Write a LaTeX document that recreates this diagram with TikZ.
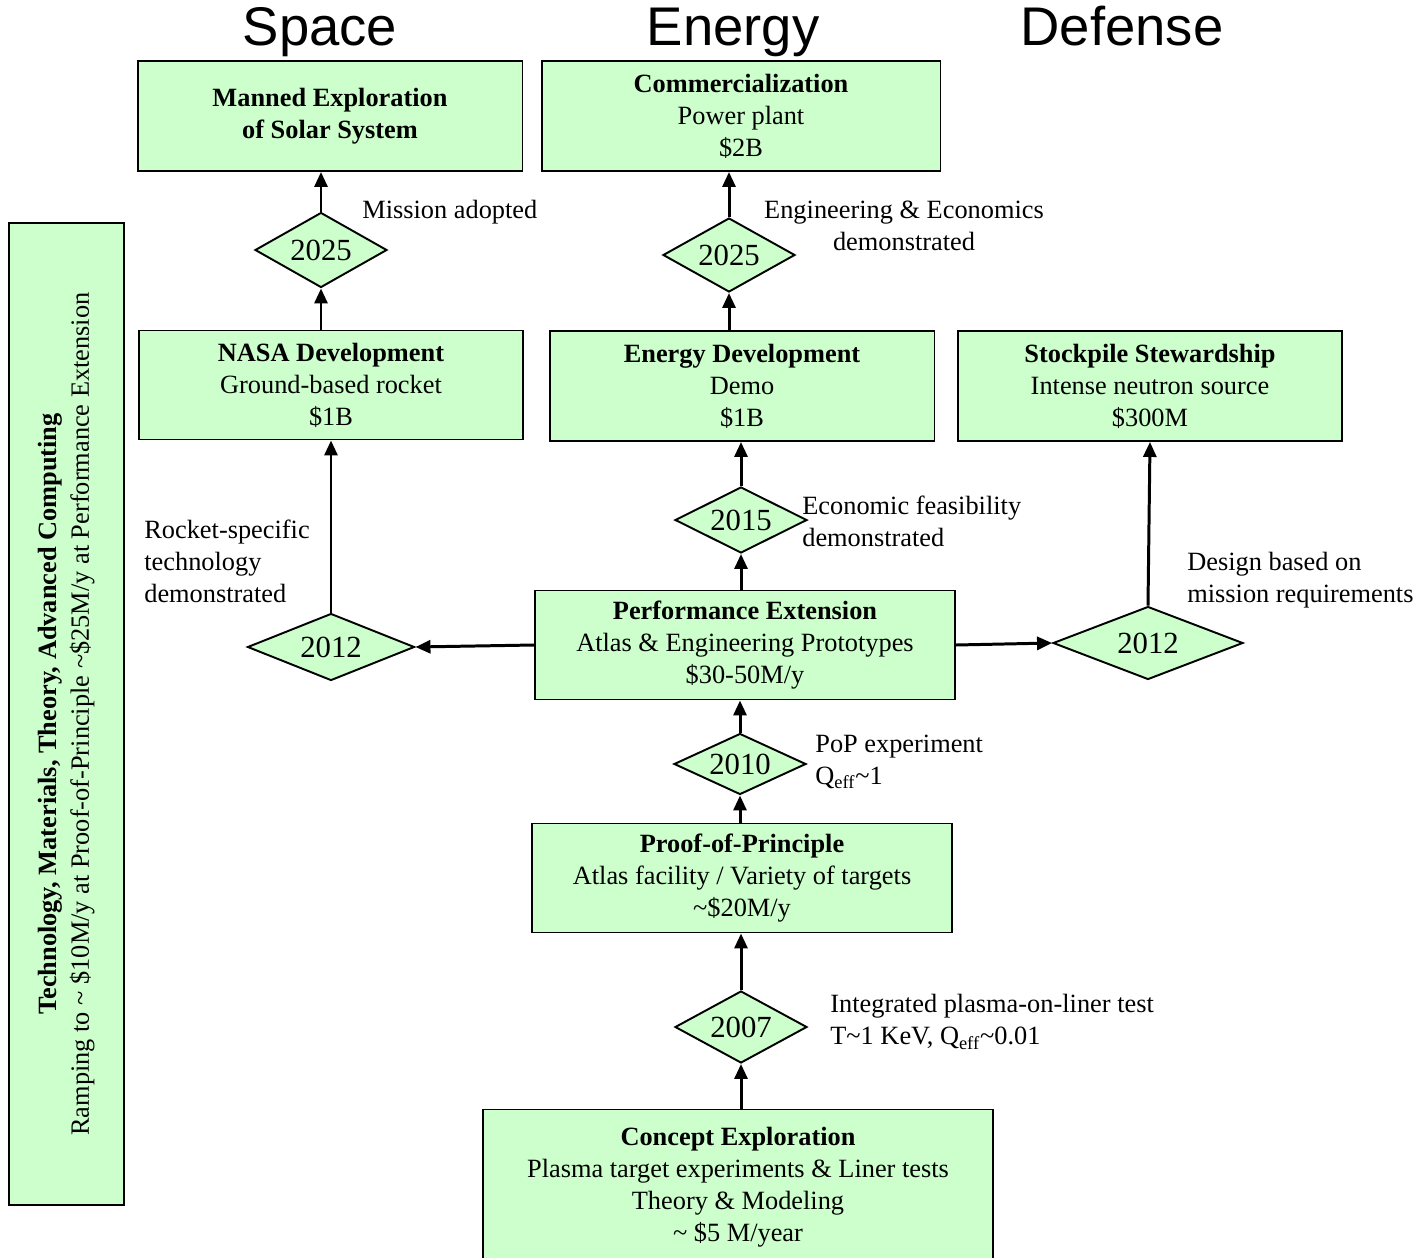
\documentclass[tikz,border=0pt]{standalone}
\usepackage{fontspec}
\setmainfont{Liberation Serif}
\newfontfamily\headfont{Liberation Sans}
\usepackage{tikz}
\usetikzlibrary{arrows.meta, shapes.geometric}
\definecolor{roadgreen}{RGB}{204,255,204}
\tikzset{
  stageblock/.style={
    rectangle, draw=black, line width=1.1pt, fill=roadgreen,
    minimum width=7.7cm, minimum height=2.2cm, inner sep=2pt,
    align=center, font=\fontsize{15}{18.2}\selectfont
  },
  yeardiamond/.style={
    diamond, aspect=2, draw=black, line width=1.1pt, fill=roadgreen, inner sep=0pt,
    minimum width=2.64cm, minimum height=1.45cm,
    font=\fontsize{17.5}{20}\selectfont
  },
  sidenote/.style={
    inner sep=0pt, align=left, font=\fontsize{15}{18.2}\selectfont
  },
  sector/.style={inner sep=0pt, anchor=base, font=\headfont\fontsize{31}{34}\selectfont},
  arrowflow/.style={-{Triangle[length=3mm, width=2.6mm]}, line width=1.7pt}
}
\begin{document}
\begin{tikzpicture}[x=0.02cm, y=-0.02cm]
\useasboundingbox (0,0) rectangle (1424,1258);

% Sector headings
\node[sector] (space) at (320,45) {Space};
\node[sector] (energy) at (733,45) {Energy};
\node[sector] (defense) at (1122,45) {Defense};

% Goal row
\node[stageblock] (manned) at (330,116) {\textbf{Manned Exploration}\\\textbf{of Solar System}};
\node[stageblock, minimum width=7.98cm] (comm) at (741,116) {\textbf{Commercialization}\\Power plant\\\$2B};

% Development row
\node[stageblock, minimum width=7.68cm, minimum height=2.18cm] (nasa) at (331,385) {\textbf{NASA Development}\\Ground-based rocket\\\$1B};
\node[stageblock] (edev) at (742,386) {\textbf{Energy Development}\\Demo\\\$1B};
\node[stageblock, minimum width=7.68cm] (stock) at (1150,386) {\textbf{Stockpile Stewardship}\\Intense neutron source\\\$300M};

% Main stem
\node[stageblock, minimum width=8.4cm, minimum height=2.18cm] (perf) at (745,645) {\textbf{Performance Extension}\\Atlas \& Engineering Prototypes\\\$30-50M/y};
\node[stageblock, minimum width=8.4cm, minimum height=2.18cm] (pop) at (742,878) {\textbf{Proof-of-Principle}\\Atlas facility / Variety of targets\\\textasciitilde\$20M/y};
\node[stageblock, minimum width=10.2cm, minimum height=3.1cm] (concept) at (738,1187) {\textbf{Concept Exploration}\\Plasma target experiments \& Liner tests\\Theory \& Modeling\\\textasciitilde{} \$5 M/year};

% Decision points
\node[yeardiamond, minimum height=1.5cm] (d2025s) at (321,250) {2025};
\node[yeardiamond, minimum height=1.48cm] (d2025e) at (729,255) {2025};
\node[yeardiamond, minimum height=1.32cm] (d2015) at (741,520) {2015};
\node[yeardiamond, minimum width=3.34cm, minimum height=1.34cm] (dsp12) at (331,647) {2012};
\node[yeardiamond, minimum width=3.8cm, minimum height=1.46cm] (ddef12) at (1148,643) {2012};
\node[yeardiamond, minimum height=1.22cm] (d2010) at (740,764) {2010};
\node[yeardiamond, minimum height=1.44cm] (d2007) at (741,1027) {2007};

% Milestone notes
\node[sidenote, anchor=west] (nmission) at (362,212) {Mission adopted};
\node[sidenote, align=center] (neng) at (904,226) {Engineering \& Economics\\demonstrated};
\node[sidenote, anchor=west] (necon) at (802,521) {Economic feasibility\\demonstrated};
\node[sidenote, anchor=west] (nrocket) at (144,561) {Rocket-specific\\technology\\demonstrated};
\node[sidenote, anchor=west] (ndesign) at (1187,580) {Design based on\\mission requirements};
\node[sidenote, anchor=west] (npop) at (815,762) {PoP experiment\\Q\textsubscript{eff}\textasciitilde1};
\node[sidenote, anchor=west] (ninteg) at (830,1022) {Integrated plasma-on-liner test\\T\textasciitilde1 KeV, Q\textsubscript{eff}\textasciitilde0.01};

% Side bar
\node[stageblock, rotate=90, minimum width=19.64cm, minimum height=2.3cm] (sidebar) at (66.5,714) {\textbf{Technology, Materials, Theory, Advanced Computing}\\Ramping to \textasciitilde{} \$10M/y at Proof-of-Principle \textasciitilde\$25M/y at Performance Extension};

% Arrows
\draw[arrowflow] (d2007.south |- concept.north) -- (d2007.south);
\draw[arrowflow] (d2007.north) -- (d2007.north |- pop.south);
\draw[arrowflow] (d2010.south |- pop.north) -- (d2010.south);
\draw[arrowflow] (d2010.north) -- (d2010.north |- perf.south);
\draw[arrowflow] (d2015.south |- perf.north) -- (d2015.south);
\draw[arrowflow] (d2015.north) -- (d2015.north |- edev.south);
\draw[arrowflow] (d2025e.south |- edev.north) -- (d2025e.south);
\draw[arrowflow] (d2025e.north) -- (d2025e.north |- comm.south);
\draw[arrowflow] (perf.west) -- (dsp12.east);
\draw[arrowflow] (dsp12.north) -- (dsp12.north |- nasa.south);
\draw[arrowflow] (d2025s.south |- nasa.north) -- (d2025s.south);
\draw[arrowflow] (d2025s.north) -- (d2025s.north |- manned.south);
\draw[arrowflow] (perf.east) -- (ddef12.west);
\draw[arrowflow] (ddef12.north) -- (stock.south);

\end{tikzpicture}
\end{document}
